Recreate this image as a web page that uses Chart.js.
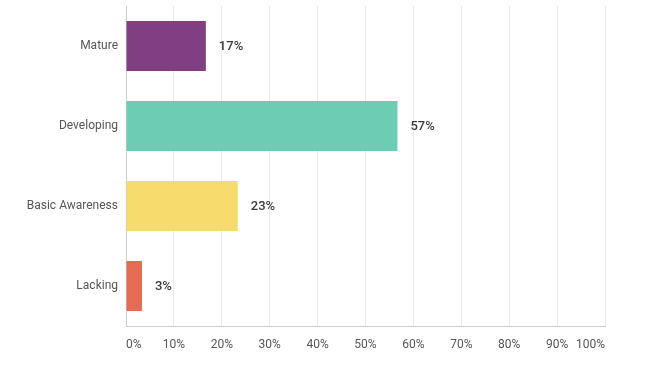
<!DOCTYPE html>
<html>
<head>
<meta charset="utf-8">
<script src="https://cdn.jsdelivr.net/npm/chart.js@4/dist/chart.umd.min.js"></script>
<style>
  html, body { margin: 0; padding: 0; background: #fff; }
  #wrap { width: 646px; height: 373px; }
</style>
</head>
<body>
<div id="wrap"><canvas id="maturityChart" width="646" height="373"></canvas></div>
<script>
const categories = ["Mature", "Developing", "Basic Awareness", "Lacking"];
const shares = [16.67, 56.67, 23.33, 3.33];
const shareLabels = ["17%", "57%", "23%", "3%"];
const barColors = ["#7f3f80", "#6ccdb4", "#f6dc6c", "#e56b55"];
const xTicks = [0, 10, 20, 30, 40, 50, 60, 70, 80, 90, 100];

const fontFamily = "Roboto, 'Open Sans', sans-serif";

// draws the "17%" style labels just past the end of each bar
const valueLabels = {
  id: "valueLabels",
  afterDatasetsDraw(chart) {
    const ctx = chart.ctx;
    const meta = chart.getDatasetMeta(0);
    ctx.save();
    ctx.font = "500 13px " + fontFamily;
    ctx.fillStyle = "#3a3a3a";
    ctx.textAlign = "left";
    ctx.textBaseline = "middle";
    meta.data.forEach((bar, i) => {
      ctx.fillText(shareLabels[i], bar.x + 13, bar.y + 1);
    });
    ctx.restore();
  }
};

new Chart(document.getElementById("maturityChart").getContext("2d"), {
  type: "bar",
  data: {
    labels: categories,
    datasets: [{
      data: shares,
      backgroundColor: barColors,
      borderWidth: 0,
      barPercentage: 0.625,
      categoryPercentage: 1.0
    }]
  },
  options: {
    indexAxis: "y",
    responsive: false,
    animation: false,
    layout: { padding: { top: 6, right: 41, bottom: 0, left: 0 } },
    plugins: {
      legend: { display: false },
      tooltip: { enabled: false }
    },
    scales: {
      x: {
        min: 0,
        max: 100,
        afterBuildTicks(scale) {
          scale.ticks = xTicks.map((v) => ({ value: v }));
        },
        afterFit(scale) { scale.height = 47; },
        grid: { color: "#ebebeb", drawTicks: false },
        border: { color: "#cccccc", width: 1 },
        ticks: {
          align: "inner",
          padding: 12,
          color: "#555",
          font: { family: fontFamily, size: 12 },
          callback: (v) => v + "%"
        }
      },
      y: {
        afterFit(scale) {
          scale.width = 126;
          scale.paddingTop = 0;
          scale.paddingBottom = 0;
        },
        grid: { display: false, drawTicks: false },
        border: { color: "#cccccc", width: 1 },
        ticks: {
          padding: 8,
          color: "#555",
          font: { family: fontFamily, size: 12 }
        }
      }
    }
  },
  plugins: [valueLabels]
});
</script>
</body>
</html>
